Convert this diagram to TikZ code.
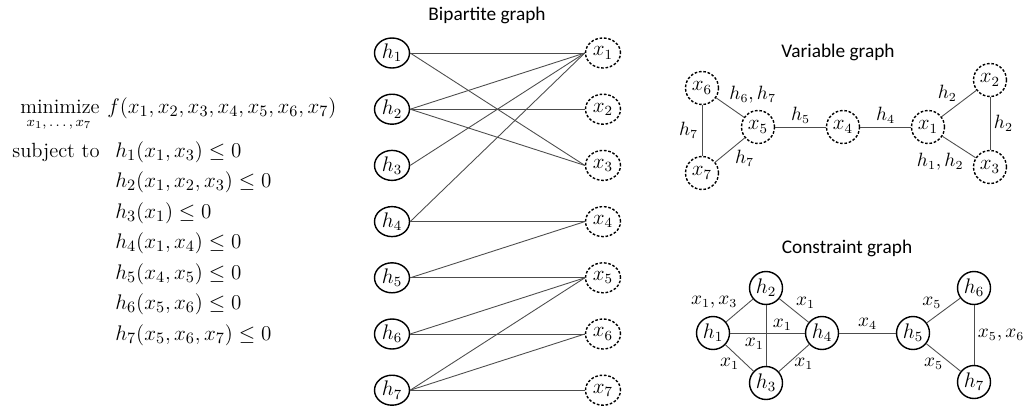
\documentclass[tikz,border=0pt]{standalone}
\usepackage{amsmath}
\usepackage{fontspec}
\newfontfamily\captionfont{Carlito}
\usetikzlibrary{positioning, shapes.geometric}

\begin{document}
\begin{tikzpicture}[
    x=0.02cm, y=-0.02cm,
    every node/.style={font=\fontsize{12}{14}\selectfont},
    hnode/.style={circle, draw, line width=0.8pt, minimum size=0.66cm, inner sep=0pt},
    xnode/.style={hnode, dash pattern=on 1.5pt off 1pt},
    bhnode/.style={ellipse, draw, line width=0.8pt, minimum width=0.7cm, minimum height=0.6cm, inner sep=0pt},
    bxnode/.style={bhnode, dash pattern=on 1.5pt off 1pt},
    link/.style={draw=black!70, line width=0.5pt},
    lbl/.style={font=\fontsize{10.5}{12}\selectfont, inner sep=1pt},
    caption/.style={font=\captionfont\fontsize{11}{13}\selectfont},
    formula/.style={font=\fontsize{13}{16}\selectfont, inner sep=0pt},
    word/.style={font=\fontsize{11.7}{14}\selectfont, inner sep=0pt}
]
\useasboundingbox (0,0) rectangle (1026,406);

% Optimization problem
\node[word, anchor=base east] (minimize) at (100,113) {minimize};
\node[font=\fontsize{8}{9}\selectfont, inner sep=0pt, anchor=north] (minvars) at (59,120) {$x_1,\ldots,x_7$};
\node[formula, anchor=base west] (objective) at (107,113) {$f(x_1,x_2,x_3,x_4,x_5,x_6,x_7)$};
\node[word, anchor=base east] (subject) at (100,157) {subject to};
\foreach \i/\args in {1/{x_1,x_3}, 2/{x_1,x_2,x_3}, 3/{x_1}, 4/{x_1,x_4}, 5/{x_4,x_5}, 6/{x_5,x_6}, 7/{x_5,x_6,x_7}}
  \node[formula, anchor=base west] (con\i) at (115,{157+30.5*(\i-1)}) {$h_{\i}(\args)\leq 0$};

% Bipartite graph
\node[caption] (bititle) at (487,15) {Bipartite graph};
\foreach \i in {1,...,7} {
  \node[bhnode] (h\i) at (392,{53+56.2*(\i-1)}) {$h_{\i}$};
  \node[bxnode] (x\i) at (603,{53+56.2*(\i-1)}) {$x_{\i}$};
}
\foreach \i/\j in {1/1,1/3,2/1,2/2,2/3,3/1,4/1,4/4,5/4,5/5,6/5,6/6,7/5,7/6,7/7}
  \draw[link] (h\i.east) -- (x\j.west);

% Variable graph
\node[caption] (vartitle) at (838,52) {Variable graph};
\node[xnode] (v1) at (928,127) {$x_1$};
\node[xnode] (v2) at (990,80) {$x_2$};
\node[xnode] (v3) at (990,167) {$x_3$};
\node[xnode] (v4) at (843,127) {$x_4$};
\node[xnode] (v5) at (758,127) {$x_5$};
\node[xnode] (v6) at (702,88) {$x_6$};
\node[xnode] (v7) at (702,173) {$x_7$};

\draw[link] (v6) -- node[lbl, pos=0.4, above right] {$h_6,h_7$} (v5);
\draw[link] (v6) -- node[lbl, left=1pt] {$h_7$} (v7);
\draw[link] (v7) -- node[lbl, pos=0.6, below right] {$h_7$} (v5);
\draw[link] (v5) -- node[lbl, above=1pt] {$h_5$} (v4);
\draw[link] (v4) -- node[lbl, above=1pt] {$h_4$} (v1);
\draw[link] (v1) -- node[lbl, above left] {$h_2$} (v2);
\draw[link] (v2) -- node[lbl, right=1pt] {$h_2$} (v3);
\draw[link] (v1) -- node[lbl, pos=0.7, below left] {$h_1,h_2$} (v3);

% Constraint graph
\node[caption] (contitle) at (847,248) {Constraint graph};
\node[hnode] (c1) at (713,333) {$h_1$};
\node[hnode] (c2) at (766,288) {$h_2$};
\node[hnode] (c3) at (766,383) {$h_3$};
\node[hnode] (c4) at (822,333) {$h_4$};
\node[hnode] (c5) at (913,333) {$h_5$};
\node[hnode] (c6) at (974,288) {$h_6$};
\node[hnode] (c7) at (974,382) {$h_7$};

\draw[link] (c1) -- node[lbl, above left] {$x_1,x_3$} (c2);
\draw[link] (c2) -- node[lbl, above right] {$x_1$} (c4);
\draw[link] (c1) -- node[lbl, pos=0.7, above] {$x_1$} (c4);
\draw[link] (c2) -- node[lbl, pos=0.64, left] {$x_1$} (c3);
\draw[link] (c1) -- node[lbl, below left, inner sep=0pt] {$x_1$} (c3);
\draw[link] (c3) -- node[lbl, below right, inner sep=0pt] {$x_1$} (c4);
\draw[link] (c4) -- node[lbl, above=1pt] {$x_4$} (c5);
\draw[link] (c5) -- node[lbl, above left] {$x_5$} (c6);
\draw[link] (c5) -- node[lbl, below left, inner sep=0pt] {$x_5$} (c7);
\draw[link] (c6) -- node[lbl, right=1pt] {$x_5,x_6$} (c7);

\end{tikzpicture}
\end{document}
